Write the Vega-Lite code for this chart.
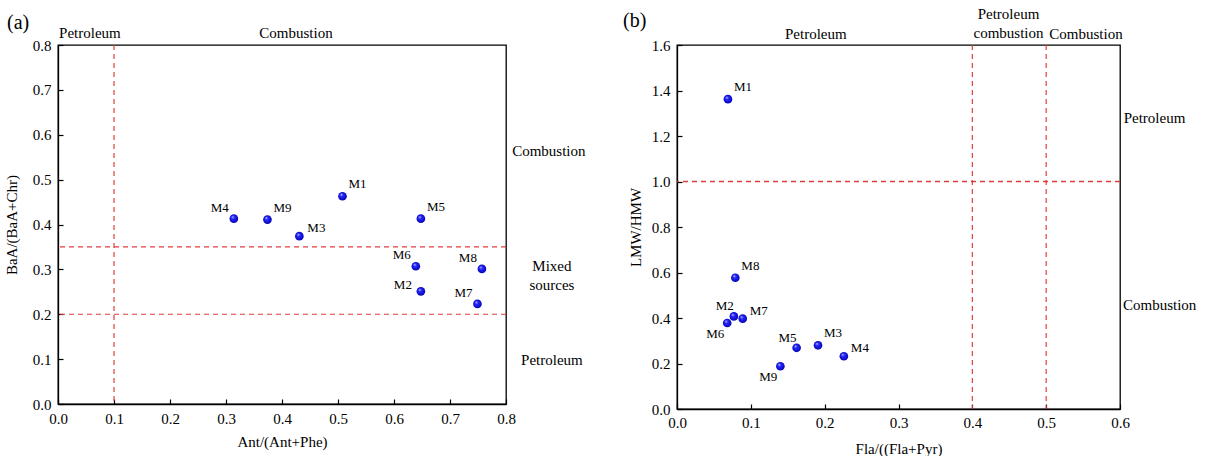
{
  "$schema": "https://vega.github.io/schema/vega-lite/v6.json",
  "padding": {"left": 3, "top": 6, "right": 5, "bottom": 5},
  "bounds": "flush",
  "spacing": 171,
  "datasets": {
    "a": [
      {"id": "M1", "x": 0.508, "y": 0.463},
      {"id": "M2", "x": 0.648, "y": 0.251},
      {"id": "M3", "x": 0.431, "y": 0.374},
      {"id": "M4", "x": 0.314, "y": 0.413},
      {"id": "M5", "x": 0.648, "y": 0.413},
      {"id": "M6", "x": 0.639, "y": 0.307},
      {"id": "M7", "x": 0.749, "y": 0.223},
      {"id": "M8", "x": 0.757, "y": 0.301},
      {"id": "M9", "x": 0.374, "y": 0.411}
    ],
    "b": [
      {"id": "M1", "x": 0.069, "y": 1.362},
      {"id": "M2", "x": 0.077, "y": 0.407},
      {"id": "M3", "x": 0.191, "y": 0.280},
      {"id": "M4", "x": 0.226, "y": 0.232},
      {"id": "M5", "x": 0.162, "y": 0.269},
      {"id": "M6", "x": 0.068, "y": 0.378},
      {"id": "M7", "x": 0.089, "y": 0.397},
      {"id": "M8", "x": 0.079, "y": 0.577},
      {"id": "M9", "x": 0.140, "y": 0.188}
    ],
    "annA": [
      {"label": "Petroleum", "x": 0.002, "y": 0.826, "pos": "left"},
      {"label": "Combustion", "x": 0.425, "y": 0.826, "pos": "center"},
      {"label": "Combustion", "x": 0.811, "y": 0.563, "pos": "left"},
      {"label": "Mixed\nsources", "x": 0.882, "y": 0.307, "pos": "center"},
      {"label": "Petroleum", "x": 0.882, "y": 0.098, "pos": "center"}
    ],
    "annB": [
      {"label": "Petroleum", "x": 0.188, "y": 1.648, "pos": "center"},
      {"label": "Petroleum\ncombustion", "x": 0.449, "y": 1.736, "pos": "center"},
      {"label": "Combustion", "x": 0.554, "y": 1.648, "pos": "center"},
      {"label": "Petroleum", "x": 0.605, "y": 1.28, "pos": "left"},
      {"label": "Combustion", "x": 0.604, "y": 0.456, "pos": "left"}
    ]
  },
  "hconcat": [
    {
      "width": 448,
      "height": 359,
      "layer": [
        {
          "data": {"values": [{"x": 0.1}]},
          "mark": {"type": "rule", "color": "#e03c3c", "stroke": "#e03c3c", "strokeDash": [5, 4], "strokeWidth": 1.2},
          "encoding": {"x": {"field": "x", "type": "quantitative", "scale": {"domain": [0, 0.8], "nice": false},
            "title": "Ant/(Ant+Phe)",
            "axis": {"values": [0, 0.05, 0.1, 0.15, 0.2, 0.25, 0.3, 0.35, 0.4, 0.45, 0.5, 0.55, 0.6, 0.65, 0.7, 0.75, 0.8],
              "labelExpr": "round(datum.value*20) % 2 == 1 ? '' : format(datum.value, '.1f')",
              "tickSize": {"condition": {"test": "round(datum.value*20) % 2 == 1", "value": -3}, "value": -5},
              "labelPadding": 12, "titlePadding": 8, "labelFlush": false}}}
        },
        {
          "data": {"values": [{"y": 0.35}, {"y": 0.2}]},
          "mark": {"type": "rule", "color": "#e03c3c", "stroke": "#e03c3c", "strokeDash": [5, 4], "strokeWidth": 1.2},
          "encoding": {"y": {"field": "y", "type": "quantitative", "scale": {"domain": [0, 0.8], "nice": false},
            "title": "BaA/(BaA+Chr)",
            "axis": {"values": [0, 0.05, 0.1, 0.15, 0.2, 0.25, 0.3, 0.35, 0.4, 0.45, 0.5, 0.55, 0.6, 0.65, 0.7, 0.75, 0.8],
              "labelExpr": "round(datum.value*20) % 2 == 1 ? '' : format(datum.value, '.1f')",
              "tickSize": {"condition": {"test": "round(datum.value*20) % 2 == 1", "value": -3}, "value": -5},
              "labelPadding": 12, "titlePadding": 13, "labelFlush": false}}}
        },
        {
          "data": {"name": "a"},
          "mark": {"type": "circle", "size": 75, "opacity": 1,
            "fill": {"gradient": "radial", "x1": 0.35, "y1": 0.3, "r1": 0, "x2": 0.5, "y2": 0.5, "r2": 0.55,
              "stops": [{"offset": 0, "color": "#e8e8ff"}, {"offset": 0.3, "color": "#2a2aff"}, {"offset": 1, "color": "#0000b0"}]}},
          "encoding": {
            "x": {"field": "x", "type": "quantitative"},
            "y": {"field": "y", "type": "quantitative"}
          }
        },
        {
          "data": {"name": "a"},
          "transform": [{"filter": {"field": "id", "oneOf": ["M9", "M1", "M5"]}}],
          "mark": {"type": "text", "align": "left", "baseline": "middle", "dx": 6, "dy": -12, "fontSize": 13},
          "encoding": {"x": {"field": "x", "type": "quantitative"}, "y": {"field": "y", "type": "quantitative"}, "text": {"field": "id"}}
        },
        {
          "data": {"name": "a"},
          "transform": [{"filter": {"field": "id", "oneOf": ["M3"]}}],
          "mark": {"type": "text", "align": "left", "baseline": "middle", "dx": 8, "dy": -8, "fontSize": 13},
          "encoding": {"x": {"field": "x", "type": "quantitative"}, "y": {"field": "y", "type": "quantitative"}, "text": {"field": "id"}}
        },
        {
          "data": {"name": "a"},
          "transform": [{"filter": {"field": "id", "oneOf": ["M4", "M6", "M8", "M7"]}}],
          "mark": {"type": "text", "align": "right", "baseline": "middle", "dx": -5, "dy": -11, "fontSize": 13},
          "encoding": {"x": {"field": "x", "type": "quantitative"}, "y": {"field": "y", "type": "quantitative"}, "text": {"field": "id"}}
        },
        {
          "data": {"name": "a"},
          "transform": [{"filter": {"field": "id", "oneOf": ["M2"]}}],
          "mark": {"type": "text", "align": "right", "baseline": "middle", "dx": -9, "dy": -6, "fontSize": 13},
          "encoding": {"x": {"field": "x", "type": "quantitative"}, "y": {"field": "y", "type": "quantitative"}, "text": {"field": "id"}}
        },
        {
          "data": {"name": "annA"},
          "transform": [{"filter": "datum.pos == 'left'"}],
          "mark": {"type": "text", "align": "left", "baseline": "middle", "fontSize": 15, "lineBreak": "\n"},
          "encoding": {"x": {"field": "x", "type": "quantitative"}, "y": {"field": "y", "type": "quantitative"}, "text": {"field": "label"}}
        },
        {
          "data": {"name": "annA"},
          "transform": [{"filter": "datum.pos == 'center'"}],
          "mark": {"type": "text", "align": "center", "baseline": "middle", "fontSize": 15, "lineBreak": "\n", "lineHeight": 19},
          "encoding": {"x": {"field": "x", "type": "quantitative"}, "y": {"field": "y", "type": "quantitative"}, "text": {"field": "label"}}
        },
        {
          "data": {"values": [{"label": "(a)", "x": -0.091, "y": 0.849}]},
          "mark": {"type": "text", "align": "left", "baseline": "middle", "fontSize": 20},
          "encoding": {"x": {"field": "x", "type": "quantitative"}, "y": {"field": "y", "type": "quantitative"}, "text": {"field": "label"}}
        }
      ]
    },
    {
      "width": 443,
      "height": 364,
      "layer": [
        {
          "data": {"values": [{"x": 0.4}, {"x": 0.5}]},
          "mark": {"type": "rule", "color": "#e03c3c", "stroke": "#e03c3c", "strokeDash": [5, 4], "strokeWidth": 1.2},
          "encoding": {"x": {"field": "x", "type": "quantitative", "scale": {"domain": [0, 0.6], "nice": false},
            "title": "Fla/((Fla+Pyr)",
            "axis": {"values": [0, 0.05, 0.1, 0.15, 0.2, 0.25, 0.3, 0.35, 0.4, 0.45, 0.5, 0.55, 0.6],
              "labelExpr": "round(datum.value*20) % 2 == 1 ? '' : format(datum.value, '.1f')",
              "tickSize": {"condition": {"test": "round(datum.value*20) % 2 == 1", "value": -3}, "value": -5},
              "labelPadding": 11, "titlePadding": 11, "labelFlush": false}}}
        },
        {
          "data": {"values": [{"y": 1}]},
          "mark": {"type": "rule", "color": "#e03c3c", "stroke": "#e03c3c", "strokeDash": [5, 4], "strokeWidth": 1.3, "opacity": 1},
          "encoding": {"y": {"field": "y", "type": "quantitative", "scale": {"domain": [0, 1.6], "nice": false},
            "title": "LMW/HMW",
            "axis": {"values": [0, 0.1, 0.2, 0.3, 0.4, 0.5, 0.6, 0.7, 0.8, 0.9, 1.0, 1.1, 1.2, 1.3, 1.4, 1.5, 1.6],
              "labelExpr": "round(datum.value*10) % 2 == 1 ? '' : format(datum.value, '.1f')",
              "tickSize": {"condition": {"test": "round(datum.value*10) % 2 == 1", "value": -3}, "value": -5},
              "labelPadding": 12, "titlePadding": 8, "labelFlush": false}}}
        },
        {
          "data": {"name": "b"},
          "mark": {"type": "circle", "size": 75, "opacity": 1,
            "fill": {"gradient": "radial", "x1": 0.35, "y1": 0.3, "r1": 0, "x2": 0.5, "y2": 0.5, "r2": 0.55,
              "stops": [{"offset": 0, "color": "#e8e8ff"}, {"offset": 0.3, "color": "#2a2aff"}, {"offset": 1, "color": "#0000b0"}]}},
          "encoding": {
            "x": {"field": "x", "type": "quantitative"},
            "y": {"field": "y", "type": "quantitative"}
          }
        },
        {
          "data": {"name": "b"},
          "transform": [{"filter": {"field": "id", "oneOf": ["M1", "M8", "M3"]}}],
          "mark": {"type": "text", "align": "left", "baseline": "middle", "dx": 6, "dy": -12, "fontSize": 13},
          "encoding": {"x": {"field": "x", "type": "quantitative"}, "y": {"field": "y", "type": "quantitative"}, "text": {"field": "id"}}
        },
        {
          "data": {"name": "b"},
          "transform": [{"filter": {"field": "id", "oneOf": ["M7", "M4"]}}],
          "mark": {"type": "text", "align": "left", "baseline": "middle", "dx": 7, "dy": -8, "fontSize": 13},
          "encoding": {"x": {"field": "x", "type": "quantitative"}, "y": {"field": "y", "type": "quantitative"}, "text": {"field": "id"}}
        },
        {
          "data": {"name": "b"},
          "transform": [{"filter": {"field": "id", "oneOf": ["M2", "M5"]}}],
          "mark": {"type": "text", "align": "right", "baseline": "middle", "dx": 0, "dy": -10, "fontSize": 13},
          "encoding": {"x": {"field": "x", "type": "quantitative"}, "y": {"field": "y", "type": "quantitative"}, "text": {"field": "id"}}
        },
        {
          "data": {"name": "b"},
          "transform": [{"filter": {"field": "id", "oneOf": ["M6", "M9"]}}],
          "mark": {"type": "text", "align": "right", "baseline": "middle", "dx": -3, "dy": 11, "fontSize": 13},
          "encoding": {"x": {"field": "x", "type": "quantitative"}, "y": {"field": "y", "type": "quantitative"}, "text": {"field": "id"}}
        },
        {
          "data": {"name": "annB"},
          "transform": [{"filter": "datum.pos == 'left'"}],
          "mark": {"type": "text", "align": "left", "baseline": "middle", "fontSize": 15, "lineBreak": "\n"},
          "encoding": {"x": {"field": "x", "type": "quantitative"}, "y": {"field": "y", "type": "quantitative"}, "text": {"field": "label"}}
        },
        {
          "data": {"name": "annB"},
          "transform": [{"filter": "datum.pos == 'center'"}],
          "mark": {"type": "text", "align": "center", "baseline": "middle", "fontSize": 15, "lineBreak": "\n", "lineHeight": 19},
          "encoding": {"x": {"field": "x", "type": "quantitative"}, "y": {"field": "y", "type": "quantitative"}, "text": {"field": "label"}}
        },
        {
          "data": {"values": [{"label": "(b)", "x": -0.073, "y": 1.705}]},
          "mark": {"type": "text", "align": "left", "baseline": "middle", "fontSize": 20},
          "encoding": {"x": {"field": "x", "type": "quantitative"}, "y": {"field": "y", "type": "quantitative"}, "text": {"field": "label"}}
        }
      ]
    }
  ],
  "config": {
    "font": "Liberation Serif",
    "view": {"stroke": "black", "strokeWidth": 1.3},
    "axis": {"grid": false, "domainColor": "black", "domainWidth": 1.3, "tickColor": "black", "tickWidth": 1.2,
      "labelFont": "Liberation Serif", "labelFontSize": 15, "labelColor": "black",
      "titleFont": "Liberation Serif", "titleFontSize": 15, "titleFontWeight": "normal", "titleColor": "black"},
    "text": {"font": "Liberation Serif", "color": "black"}
  }
}
